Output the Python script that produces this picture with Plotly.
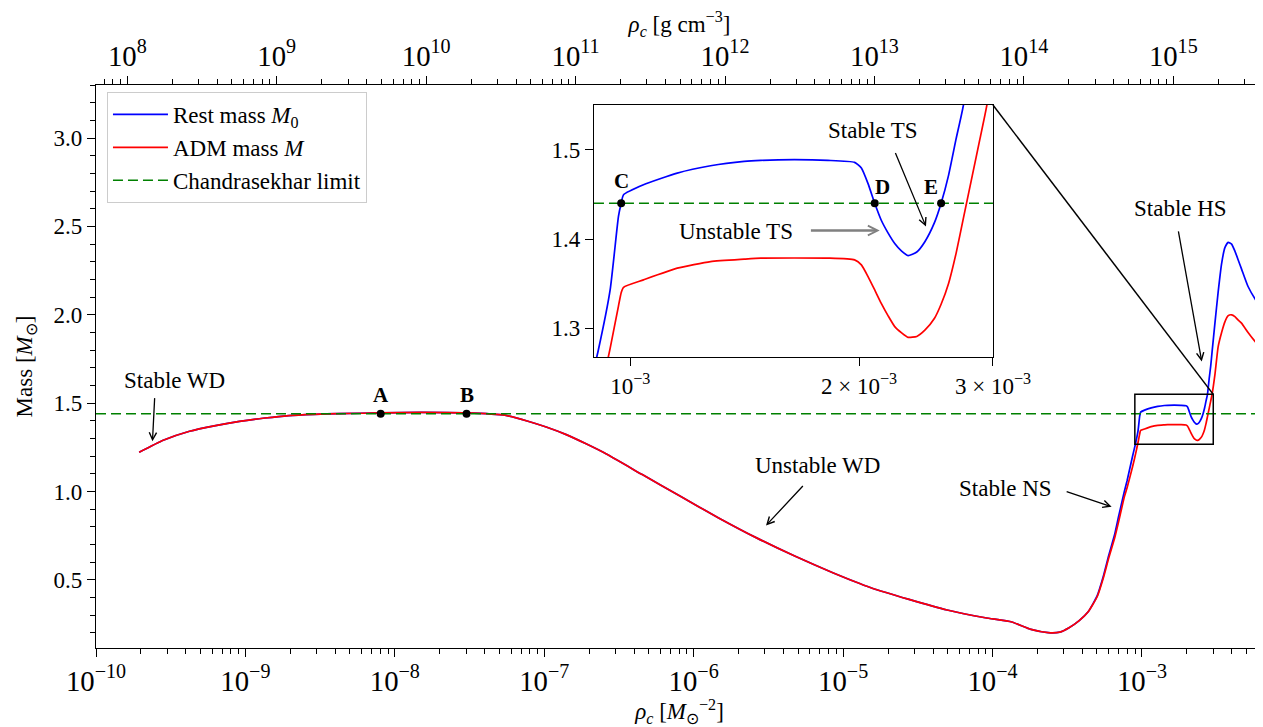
import math
import plotly.graph_objects as go

# ---------------- data ----------------
# central density in geometric units [M_sun^-2]
rho_c = [
    1.945e-10, 2.818e-10, 4.227e-10, 6.31e-10, 9.12e-10, 1.349e-9, 1.95e-9, 2.884e-9,
    4.217e-9, 8.035e-9, 1.514e-8, 3.02e-8, 5.445e-8, 7.78e-8, 1.03e-7, 1.403e-7,
    1.905e-7, 2.518e-7, 4.529e-7, 8.147e-7, 1.469e-6, 2.636e-6, 4.742e-6, 8.531e-6,
    1.535e-5, 2.761e-5, 4.966e-5, 8.933e-5, 1.346e-4, 1.807e-4, 2.355e-4, 2.818e-4,
    3.251e-4, 3.802e-4, 4.365e-4, 5.012e-4, 5.508e-4, 5.998e-4, 6.577e-4, 6.982e-4,
    7.621e-4, 7.943e-4, 8.650e-4, 9.08e-4, 9.41e-4, 9.65e-4, 9.73e-4, 9.80e-4,
    1.041e-3, 1.153e-3, 1.2755e-3, 1.412e-3, 1.485e-3, 1.644e-3, 1.820e-3, 1.973e-3,
    2.014e-3, 2.055e-3, 2.097e-3, 2.139e-3, 2.184e-3, 2.228e-3, 2.275e-3, 2.320e-3,
    2.382e-3, 2.441e-3, 2.512e-3, 2.564e-3, 2.622e-3, 2.683e-3, 2.744e-3, 2.818e-3,
    2.884e-3, 2.946e-3, 3.076e-3, 3.236e-3, 3.412e-3, 3.589e-3, 3.776e-3, 3.981e-3,
    4.188e-3, 4.406e-3, 4.634e-3, 5.129e-3, 5.963e-3, 6.457e-3,
]
# rest mass M0 [M_sun]
mass_rest = [
    1.222, 1.290, 1.341, 1.373, 1.397, 1.416, 1.430, 1.437,
    1.441, 1.445, 1.448, 1.445, 1.432, 1.398, 1.365, 1.322,
    1.270, 1.219, 1.096, 0.973, 0.851, 0.738, 0.635, 0.541,
    0.456, 0.390, 0.330, 0.286, 0.262, 0.220, 0.202, 0.205,
    0.230, 0.270, 0.320, 0.410, 0.520, 0.640, 0.760, 0.860,
    1.000, 1.060, 1.200, 1.2758, 1.343, 1.4253, 1.440, 1.4496,
    1.4608, 1.4738, 1.482, 1.4869, 1.4880, 1.4888, 1.488, 1.4858,
    1.4795, 1.462, 1.440, 1.421, 1.4066, 1.395, 1.3865, 1.3815,
    1.3855, 1.397, 1.418, 1.440, 1.471, 1.512, 1.5504, 1.640,
    1.710, 1.790, 1.950, 2.130, 2.290, 2.380, 2.410, 2.400,
    2.360, 2.310, 2.260, 2.160, 2.066, 2.030,
]
# ADM mass M [M_sun]
mass_adm = [
    1.222, 1.290, 1.341, 1.373, 1.397, 1.416, 1.430, 1.437,
    1.441, 1.445, 1.448, 1.445, 1.432, 1.398, 1.365, 1.322,
    1.270, 1.219, 1.096, 0.973, 0.851, 0.738, 0.635, 0.541,
    0.456, 0.390, 0.330, 0.286, 0.262, 0.220, 0.202, 0.205,
    0.230, 0.270, 0.320, 0.405, 0.510, 0.625, 0.740, 0.830,
    0.970, 1.020, 1.140, 1.216, 1.2777, 1.325, 1.340, 1.346,
    1.3543, 1.3674, 1.3748, 1.3775, 1.3786, 1.3788, 1.3786, 1.3767,
    1.3711, 1.358, 1.343, 1.328, 1.314, 1.302, 1.295, 1.290,
    1.291, 1.298, 1.311, 1.327, 1.350, 1.384, 1.424, 1.471,
    1.512, 1.5504, 1.660, 1.820, 1.900, 1.960, 1.995, 2.000,
    1.990, 1.970, 1.953, 1.900, 1.830, 1.800,
]
chandrasekhar = 1.44

# special points on the Chandrasekhar line
ab_rho = [8.035e-9, 3.02e-8]
ab_labels = ["A", "B"]
cde_rho = [9.73e-4, 2.097e-3, 2.564e-3]
cde_labels = ["C", "D", "E"]

# unit conversion M_sun^-2 -> g cm^-3
to_cgs = 6.17e17

# axis ranges
main_xr = [-10.0, -2.19]          # log10 rho
main_yr = [0.115, 3.30]
inset_xr = [math.log10(8.96e-4), math.log10(3.0e-3)]
inset_yr = [1.268, 1.55]
main_yticks = [0.5, 1.0, 1.5, 2.0, 2.5, 3.0]
inset_xticks = [1e-3, 2e-3, 3e-3]
inset_xticktext = ["10<sup>−3</sup>", "2 × 10<sup>−3</sup>", "3 × 10<sup>−3</sup>"]
inset_yticks = [1.3, 1.4, 1.5]

# ---------------- styling ----------------
FONT = "Liberation Serif"
BLUE = "#0000ff"
RED = "#ff0000"
GREEN = "#008000"
# page body has an 8px margin: the figure is sized so the plot area lands where the reference has it
W, H = 1255, 719
ML, MR, MT, MB = 88, 0, 77, 79
inset_dx = [0.4267, 0.7686]
inset_dy = [0.5169, 0.9645]
TXT = 23
TICK = 23

fig = go.Figure()

line_kw = dict(width=1.7, shape="spline", smoothing=0.5)
# main curves
fig.add_trace(go.Scatter(x=rho_c, y=mass_rest, mode="lines", name="Rest mass <i>M</i><sub>0</sub>",
                         line=dict(color=BLUE, **line_kw), xaxis="x", yaxis="y"))
fig.add_trace(go.Scatter(x=rho_c, y=mass_adm, mode="lines", name="ADM mass <i>M</i>",
                         line=dict(color=RED, **line_kw), xaxis="x", yaxis="y"))
fig.add_trace(go.Scatter(x=[10 ** main_xr[0], 10 ** main_xr[1]], y=[chandrasekhar] * 2, mode="lines",
                         name="Chandrasekhar limit", line=dict(color=GREEN, width=1.5, dash="10px,5px"),
                         xaxis="x", yaxis="y"))
fig.add_trace(go.Scatter(x=ab_rho, y=[chandrasekhar] * len(ab_rho), mode="markers",
                         marker=dict(color="black", size=8), showlegend=False, xaxis="x", yaxis="y"))
# invisible trace on the top (g cm^-3) axis so that it is drawn
fig.add_trace(go.Scatter(x=[v * to_cgs for v in rho_c], y=mass_rest, mode="lines",
                         line=dict(width=0), opacity=0, showlegend=False, hoverinfo="skip",
                         xaxis="x2", yaxis="y"))

# inset curves
fig.add_trace(go.Scatter(x=rho_c, y=mass_rest, mode="lines", showlegend=False,
                         line=dict(color=BLUE, **line_kw), xaxis="x3", yaxis="y3"))
fig.add_trace(go.Scatter(x=rho_c, y=mass_adm, mode="lines", showlegend=False,
                         line=dict(color=RED, **line_kw), xaxis="x3", yaxis="y3"))
fig.add_trace(go.Scatter(x=[10 ** inset_xr[0], 10 ** inset_xr[1]], y=[chandrasekhar] * 2, mode="lines",
                         showlegend=False, line=dict(color=GREEN, width=1.5, dash="10px,5px"),
                         xaxis="x3", yaxis="y3"))
fig.add_trace(go.Scatter(x=cde_rho, y=[chandrasekhar] * len(cde_rho), mode="markers",
                         marker=dict(color="black", size=8), showlegend=False, xaxis="x3", yaxis="y3"))

tickfont = dict(family=FONT, size=TICK, color="black")
common_axis = dict(showgrid=False, zeroline=False, showline=True, linecolor="black", linewidth=1.3,
                   ticks="outside", ticklen=8, tickwidth=1.2, tickcolor="black", tickfont=tickfont,
                   automargin=False)
minor_kw = dict(ticks="outside", ticklen=5, tickcolor="black", tickwidth=1, showgrid=False)
title_font = dict(family=FONT, size=TXT, color="black")

fig.update_layout(
    template="none",
    autosize=False,
    width=W, height=H,
    margin=dict(l=ML, r=MR, t=MT, b=MB, autoexpand=False),
    paper_bgcolor="white", plot_bgcolor="white",
    font=dict(family=FONT, size=TXT, color="black"),
    xaxis=dict(type="log", range=main_xr, domain=[0, 1], anchor="y", dtick=1,
               exponentformat="power", minor=minor_kw,
               title=dict(text="<i>ρ<sub>c</sub></i> [<i>M</i><sub>⊙</sub><sup>−2</sup>]",
                          font=title_font, standoff=10),
               **common_axis),
    xaxis2=dict(type="log", range=[main_xr[0] + math.log10(to_cgs), main_xr[1] + math.log10(to_cgs)],
                overlaying="x", side="top", anchor="y", dtick=1, exponentformat="power",
                minor=minor_kw,
                title=dict(text="<i>ρ<sub>c</sub></i> [g cm<sup>−3</sup>]", font=title_font, standoff=12),
                **common_axis),
    yaxis=dict(range=main_yr, domain=[0, 1], anchor="x", tickvals=main_yticks, tickformat=".1f",
               minor=dict(dtick=0.1, **minor_kw),
               title=dict(text="Mass [<i>M</i><sub>⊙</sub>]", font=title_font, standoff=14),
               **common_axis),
    xaxis3=dict(type="log", range=inset_xr, domain=inset_dx, anchor="y3",
                tickvals=inset_xticks, ticktext=inset_xticktext, mirror=True, **common_axis),
    yaxis3=dict(range=inset_yr, domain=inset_dy, anchor="x3", tickvals=inset_yticks, tickformat=".1f",
                mirror=True, **common_axis),
    legend=dict(x=0.0094, y=0.9876, xanchor="left", yanchor="top",
                bgcolor="rgba(255,255,255,0.85)", bordercolor="#cccccc", borderwidth=1,
                font=dict(family=FONT, size=23), tracegroupgap=0, itemwidth=55),
    showlegend=True,
)

# zoom rectangle and connector line
fig.add_shape(type="rect", xref="x", yref="y", x0=10 ** inset_xr[0], x1=10 ** inset_xr[1],
              y0=inset_yr[0], y1=inset_yr[1], line=dict(color="black", width=1.5))


def px_main(rho):
    return (math.log10(rho) - main_xr[0]) / (main_xr[1] - main_xr[0])


def py_main(m):
    return (m - main_yr[0]) / (main_yr[1] - main_yr[0])


fig.add_shape(type="line", xref="paper", yref="paper",
              x0=inset_dx[1], y0=inset_dy[1],
              x1=px_main(10 ** inset_xr[1]), y1=py_main(inset_yr[1]),
              line=dict(color="black", width=1.5))

# point labels
for r, lab in zip(ab_rho, ab_labels):
    fig.add_annotation(x=math.log10(r), y=chandrasekhar, xref="x", yref="y", text=f"<b>{lab}</b>",
                       showarrow=False, yshift=19, font=dict(family=FONT, size=21))
label_off = [(0, 22), (8, 16), (-10, 16)]
for r, lab, (dx, dy) in zip(cde_rho, cde_labels, label_off):
    fig.add_annotation(x=math.log10(r), y=chandrasekhar, xref="x3", yref="y3", text=f"<b>{lab}</b>",
                       showarrow=False, xshift=dx, yshift=dy, font=dict(family=FONT, size=21))


def text_ann(x, y, txt, xref="x", yref="y"):
    fig.add_annotation(x=x, y=y, xref=xref, yref=yref, text=txt, showarrow=False,
                       font=dict(family=FONT, size=TXT))


def arrow(xt, yt, xh, yh, xref="x", yref="y", color="black", width=1.3, size=1.1):
    fig.add_annotation(x=xh, y=yh, ax=xt, ay=yt, xref=xref, yref=yref, axref=xref, ayref=yref,
                       text="", showarrow=True, arrowhead=5, arrowsize=size, arrowwidth=width,
                       arrowcolor=color)


text_ann(-9.474, 1.627, "Stable WD")
arrow(-9.607, 1.537, -9.622, 1.284)
text_ann(-5.17, 1.147, "Unstable WD")
arrow(-5.26, 1.040, -5.516, 0.808)
text_ann(-3.911, 1.017, "Stable NS")
arrow(-3.514, 1.002, -3.203, 0.914)
text_ann(-2.74, 2.599, "Stable HS")
arrow(-2.758, 2.48, -2.60, 1.736)

text_ann(-2.6805, 1.5213, "Stable TS", "x3", "y3")
arrow(-2.652, 1.498, -2.611, 1.414, "x3", "y3")
text_ann(-2.8612, 1.4084, "Unstable TS", "x3", "y3")
arrow(-2.7643, 1.4095, -2.6718, 1.4095, "x3", "y3", color="#808080", width=2.4, size=0.8)

fig.write_html("out.html", config={"responsive": False}, default_width=f"{W}px", default_height=f"{H}px")
